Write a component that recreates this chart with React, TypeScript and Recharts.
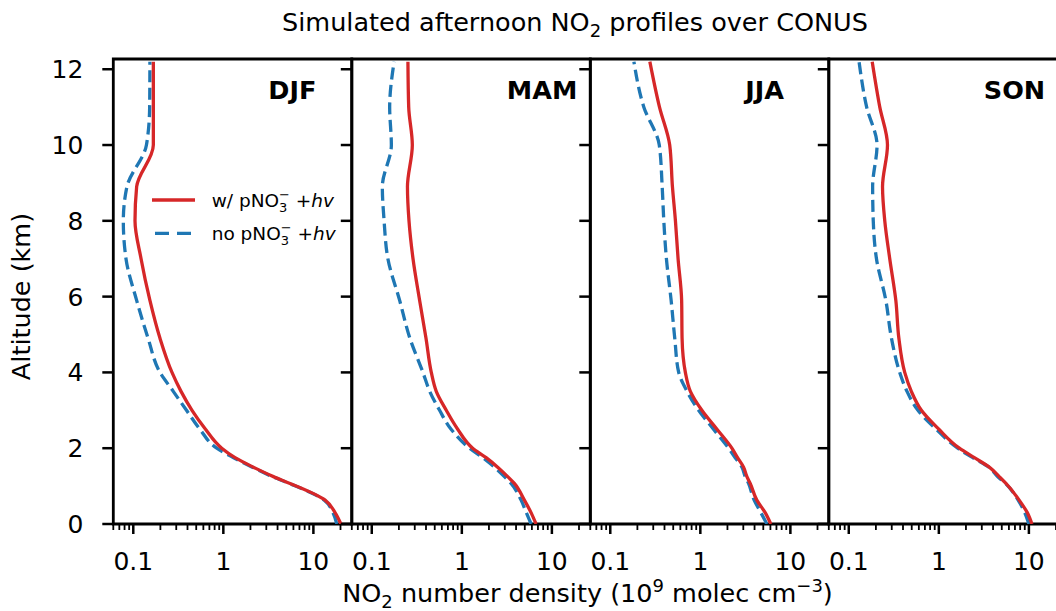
import React from 'react';
import { LineChart, Line, XAxis, YAxis, ReferenceArea } from 'recharts';

// ---------- data ----------
const SEASONS = ['DJF', 'MAM', 'JJA', 'SON'];
const ALTITUDE_KM = [0, 0.3, 0.63, 1.07, 1.25, 1.5, 1.75, 2, 2.5, 3, 3.5, 4, 4.9, 5.9, 7, 8, 8.9, 10, 11, 12.2];

const DJF_WITH = [20.2, 17.4, 13.5, 5.5, 3.6, 2.15, 1.35, 0.96, 0.634, 0.449, 0.339, 0.269, 0.198, 0.153, 0.122, 0.1045, 0.109, 0.167, 0.167, 0.167];
const DJF_NO = [18.2, 16.5, 13.2, 5.4, 3.5, 2.1, 1.3, 0.845, 0.55, 0.39, 0.278, 0.198, 0.146, 0.109, 0.083, 0.0775, 0.085, 0.14, 0.152, 0.153];

const MAM_WITH = [6.67, 5.87, 4.95, 3.83, 3.23, 2.5, 1.86, 1.32, 0.9, 0.672, 0.52, 0.458, 0.4, 0.34, 0.287, 0.259, 0.249, 0.282, 0.257, 0.252];
const MAM_NO = [5.87, 5.2, 4.55, 3.52, 2.97, 2.3, 1.71, 1.22, 0.76, 0.566, 0.44, 0.37, 0.265, 0.204, 0.151, 0.137, 0.131, 0.165, 0.158, 0.177];

const JJA_WITH = [6.06, 5.25, 4.24, 3.58, 3.29, 3.02, 2.59, 2.24, 1.53, 1.04, 0.775, 0.682, 0.627, 0.62, 0.566, 0.529, 0.49, 0.457, 0.352, 0.275];
const JJA_NO = [5.48, 4.7, 3.96, 3.43, 3.15, 2.9, 2.44, 2.06, 1.4, 0.957, 0.712, 0.575, 0.52, 0.474, 0.42, 0.393, 0.377, 0.35, 0.236, 0.183];

const SON_WITH = [10.8, 9.6, 7.8, 5.56, 4.68, 3.63, 2.48, 1.69, 1.0, 0.64, 0.495, 0.418, 0.36, 0.333, 0.285, 0.251, 0.237, 0.269, 0.221, 0.182];
const SON_NO = [10.0, 9.0, 7.6, 5.5, 4.49, 3.6, 2.38, 1.62, 0.935, 0.586, 0.443, 0.368, 0.298, 0.258, 0.203, 0.187, 0.184, 0.206, 0.158, 0.13];

const WITH_SERIES = [DJF_WITH, MAM_WITH, JJA_WITH, SON_WITH];
const NO_SERIES = [DJF_NO, MAM_NO, JJA_NO, SON_NO];

const X_DOMAIN = [0.06, 26.7];
const Y_DOMAIN = [0, 12.27];
const X_MAJOR_TICKS = [0.1, 1, 10];
const X_MAJOR_LABELS = ['0.1', '1', '10'];
const X_MINOR_TICKS = [0.06, 0.07, 0.08, 0.09, 0.2, 0.3, 0.4, 0.5, 0.6, 0.7, 0.8, 0.9, 2, 3, 4, 5, 6, 7, 8, 9, 20];
const Y_TICKS = [0, 2, 4, 6, 8, 10, 12];

// ---------- styling ----------
const FONT = '"DejaVu Sans", sans-serif';
const RED = '#d62728';
const BLUE = '#1f77b4';
const CHART_W = 1100;
const CHART_H = 611;
const PANEL_LEFT = [113.3, 351.8, 590.3, 828.8];
const PANEL_W = 238.5;
const PLOT_TOP = 59;
const PLOT_BOTTOM = 524;
const Y_AXIS_W = 30;
const X_AXIS_H = 30;
const LINE_W = 3.3;

const XTick = (props: any) => {
  const { x, y, payload } = props;
  const v = payload.value;
  const mi = X_MAJOR_TICKS.findIndex((m) => Math.abs(m - v) < 1e-9);
  const major = mi >= 0;
  return (
    <g>
      <line x1={x} x2={x} y1={y} y2={y + (major ? 10 : 6)} stroke="#000" strokeWidth={major ? 2.5 : 1.8} />
      {major && (
        <text x={x} y={y + 46} textAnchor="middle" fontSize={25} fontFamily={FONT} fill="#000">
          {X_MAJOR_LABELS[mi]}
        </text>
      )}
    </g>
  );
};

const makeYTick = (showLabel: boolean) => (props: any) => {
  const { x, y, payload } = props;
  return (
    <g>
      <line x1={x - 11} x2={x} y1={y} y2={y} stroke="#000" strokeWidth={2.5} />
      {showLabel && (
        <text x={x - 30} y={y + 9} textAnchor="end" fontSize={25} fontFamily={FONT} fill="#000">
          {payload.value}
        </text>
      )}
    </g>
  );
};

function Panel({ idx }: { idx: number }) {
  const w = WITH_SERIES[idx];
  const n = NO_SERIES[idx];
  const data = ALTITUDE_KM.map((a, i) => ({ alt: a, withHv: w[i], noHv: n[i] }));
  const left = PANEL_LEFT[idx];
  const right = left + PANEL_W;
  return (
    <div style={{ position: 'absolute', left: 0, top: 0, width: CHART_W, height: CHART_H }}>
      <LineChart
        width={CHART_W}
        height={CHART_H}
        data={data}
        layout="vertical"
        margin={{ top: PLOT_TOP, bottom: CHART_H - PLOT_BOTTOM - X_AXIS_H, left: left - Y_AXIS_W, right: CHART_W - right }}
      >
        <XAxis
          type="number"
          scale="log"
          domain={X_DOMAIN}
          allowDataOverflow
          ticks={[...X_MINOR_TICKS, ...X_MAJOR_TICKS]}
          interval={0}
          tick={XTick}
          tickLine={false}
          axisLine={false}
          tickSize={0}
          tickMargin={0}
          height={X_AXIS_H}
        />
        <YAxis
          type="number"
          dataKey="alt"
          domain={Y_DOMAIN}
          allowDataOverflow
          reversed
          ticks={Y_TICKS}
          interval={0}
          tick={makeYTick(idx === 0)}
          tickLine={false}
          axisLine={false}
          tickSize={0}
          tickMargin={0}
          width={Y_AXIS_W}
        />
        <Line
          dataKey="noHv"
          type="monotone"
          stroke={BLUE}
          strokeWidth={LINE_W}
          strokeDasharray="12 5.5"
          dot={false}
          activeDot={false}
          isAnimationActive={false}
        />
        <Line
          dataKey="withHv"
          type="monotone"
          stroke={RED}
          strokeWidth={LINE_W}
          dot={false}
          activeDot={false}
          isAnimationActive={false}
        />
        <ReferenceArea
          x1={X_DOMAIN[0]}
          x2={X_DOMAIN[1]}
          y1={Y_DOMAIN[0]}
          y2={Y_DOMAIN[1]}
          fill="none"
          fillOpacity={0}
          stroke="#000"
          strokeWidth={2.8}
          ifOverflow="visible"
        />
      </LineChart>
    </div>
  );
}

export default function App() {
  return (
    <div
      style={{
        position: 'absolute',
        left: 0,
        top: 0,
        width: 1056,
        height: 611,
        overflow: 'hidden',
        background: '#fff',
        fontFamily: FONT,
      }}
    >
      {SEASONS.map((s, i) => (
        <Panel key={s} idx={i} />
      ))}
      <svg
        width={1056}
        height={611}
        style={{ position: 'absolute', left: 0, top: 0, pointerEvents: 'none' }}
        fontFamily={FONT}
      >
        <text x={575} y={31} textAnchor="middle" fontSize={25.5} fill="#000">
          Simulated afternoon NO
          <tspan dy={6} fontSize={18}>2</tspan>
          <tspan dy={-6}> profiles over CONUS</tspan>
        </text>
        <text x={587.5} y={602} textAnchor="middle" fontSize={25.5} fill="#000">
          NO
          <tspan dy={6} fontSize={18}>2</tspan>
          <tspan dy={-6}> number density (10</tspan>
          <tspan dy={-10} fontSize={18}>9</tspan>
          <tspan dy={10}> molec cm</tspan>
          <tspan dy={-10} fontSize={18}>−3</tspan>
          <tspan dy={10}>)</tspan>
        </text>
        <text transform="translate(22.5,296.5) rotate(-90)" y={7} textAnchor="middle" fontSize={25.5} fill="#000">
          Altitude (km)
        </text>
        {SEASONS.map((s, i) => (
          <text key={s} x={PANEL_LEFT[i] + 155} y={99} fontSize={25.5} fontWeight="bold" fill="#000">
            {s}
          </text>
        ))}
        {/* legend */}
        <line x1={152} x2={195} y1={200} y2={200} stroke={RED} strokeWidth={LINE_W} />
        <line
          x1={152}
          x2={195}
          y1={233.3}
          y2={233.3}
          stroke={BLUE}
          strokeWidth={LINE_W}
          strokeDasharray="14 8"
          strokeDashoffset={19}
        />
        <text x={211.7} y={206.5} fontSize={18.5} fill="#000">
          w/ pNO
          <tspan dy={5} fontSize={13}>3</tspan>
          <tspan dx={-8.3} dy={-13} fontSize={13}>−</tspan>
          <tspan dy={8}> +</tspan>
          <tspan fontStyle="italic">hv</tspan>
        </text>
        <text x={211.7} y={239.8} fontSize={18.5} fill="#000">
          no pNO
          <tspan dy={5} fontSize={13}>3</tspan>
          <tspan dx={-8.3} dy={-13} fontSize={13}>−</tspan>
          <tspan dy={8}> +</tspan>
          <tspan fontStyle="italic">hv</tspan>
        </text>
      </svg>
    </div>
  );
}
